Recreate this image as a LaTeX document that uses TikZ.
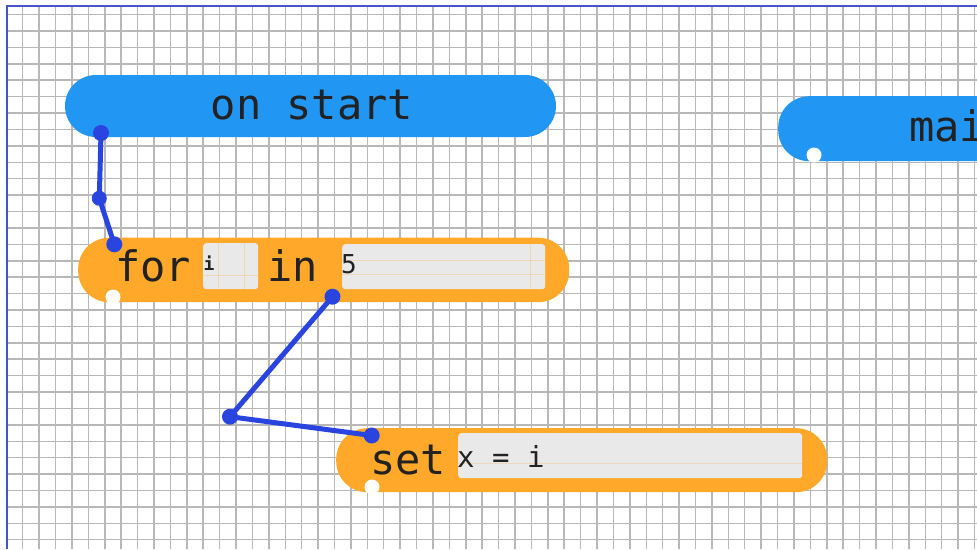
\documentclass[tikz,border=0pt]{standalone}
\usepackage{fontspec}
\newfontfamily\mono{DejaVu Sans Mono}
\definecolor{gridc}{RGB}{184,184,184}
\definecolor{framec}{RGB}{68,85,204}
\definecolor{evblue}{RGB}{33,150,243}
\definecolor{orng}{RGB}{255,168,42}
\definecolor{fieldc}{RGB}{233,233,233}
\definecolor{conn}{RGB}{42,68,224}
\definecolor{txt}{RGB}{34,34,34}
\tikzset{
  gridline/.style={draw=gridc, line width=1.5pt},
  framel/.style={draw=framec, line width=2pt},
  blk/.style={rectangle, rounded corners=31pt, inner sep=0pt},
  bluebk/.style={blk, fill=evblue},
  orgbk/.style={blk, fill=orng},
  notch/.style={circle, fill=white, inner sep=0pt, minimum size=15pt},
  field/.style={rectangle, rounded corners=3pt, fill=fieldc, inner sep=0pt},
  faint/.style={draw=orng, opacity=0.25, line width=0.8pt},
  big/.style={text=txt, inner sep=0pt, anchor=base west, font=\mono\fontsize{42}{42}\selectfont},
  dotn/.style={circle, fill=conn, inner sep=0pt, minimum size=16pt},
  wire/.style={draw=conn, line width=5pt, line join=round}
}
\begin{document}
\begin{tikzpicture}[x=1pt,y=-1pt]
\useasboundingbox (0,0) rectangle (977,549);
\begin{scope}
\clip (0,0) rectangle (977,549);
% grid
\foreach \i in {0,...,58} \draw[gridline] ({22.7+\i*16.41},6) -- ({22.7+\i*16.41},549);
\foreach \j in {0,...,32} \draw[gridline] (7,{14.6+\j*16.41}) -- (977,{14.6+\j*16.41});
\draw[framel] (7,549) -- (7,6) -- (977,6);

% on start block
\node[bluebk, minimum width=491pt, minimum height=62pt] (onstart) at (310.5,106) {};
\node[big, anchor=base] (onstartlbl) at (312,119) {on start};

% main block (partly off the picture)
\node[bluebk, minimum width=340pt, minimum height=65pt, anchor=north west] (mainblk) at (778,96) {};
\node[notch] (mainnotch) at (814,155) {};
\node[big] (mainlbl) at (909,141) {mai};

% for block
\node[orgbk, minimum width=491pt, minimum height=64.5pt, anchor=north west] (forblk) at (78,237.5) {};
\node[notch] (fornotch) at (113,297) {};
\node[big] (forlbl) at (115,281) {for};
\node[field, minimum width=55pt, minimum height=46pt, anchor=north west] (fieldi) at (203,243) {};
\draw[faint] (203,275) -- (258,275);
\draw[faint] (218,243) -- (218,289);
\draw[faint] (244,243) -- (244,289);
\node[text=txt, inner sep=0pt, anchor=base west, font=\mono\bfseries\fontsize{18}{18}\selectfont] (ilbl) at (203.5,270) {i};
\node[big] (inlbl) at (267,281) {in};
\node[field, minimum width=203pt, minimum height=45pt, anchor=north west] (fieldfive) at (342,244) {};
\draw[faint] (342,260) -- (545,260);
\draw[faint] (342,274) -- (545,274);
\draw[faint] (530,244) -- (530,289);
\node[text=txt, inner sep=0pt, anchor=base west, font=\mono\fontsize{26}{26}\selectfont] (fivelbl) at (341,273) {5};

% set block
\node[orgbk, minimum width=491pt, minimum height=64pt, anchor=north west] (setblk) at (336,428) {};
\node[notch] (setnotch) at (372,487) {};
\node[big] (setlbl) at (370,474) {set};
\node[field, minimum width=344pt, minimum height=45pt, anchor=north west] (fieldx) at (458,433) {};
\draw[faint] (458,463) -- (802,463);
\node[text=txt, inner sep=0pt, anchor=base west, font=\mono\fontsize{29}{29}\selectfont] (xlbl) at (457,467) {x = i};

% connectors
\node[dotn] (a1) at (101,133) {};
\node[dotn, minimum size=15pt] (a2) at (99.3,198.3) {};
\node[dotn] (a3) at (114.3,244.3) {};
\draw[wire] (a1.center) -- (a2.center) -- (a3.center);

\node[dotn] (b1) at (332.5,296.7) {};
\node[dotn] (b2) at (230,416.7) {};
\node[dotn] (b3) at (371.7,435.5) {};
\draw[wire] (b1.center) -- (b2.center) -- (b3.center);
\end{scope}
\end{tikzpicture}
\end{document}
